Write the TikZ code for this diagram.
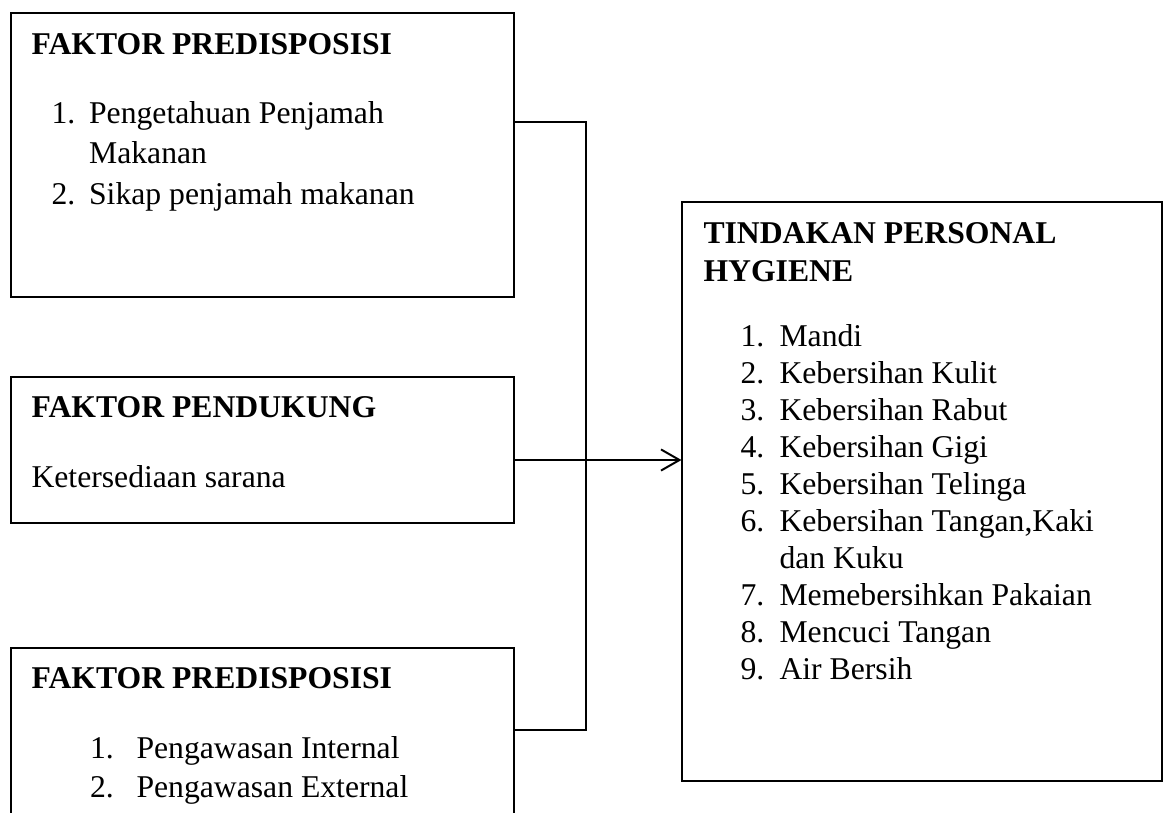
\documentclass[tikz,border=0pt]{standalone}
\usepackage{fontspec}
\setmainfont{Liberation Serif}
\usetikzlibrary{fit,arrows.meta}

\begin{document}
\begin{tikzpicture}[x=0.3788pt, y=-0.3788pt, >={Straight Barb[length=7pt,width=8pt]},
  boite/.style={draw, thin, inner sep=0pt},
  liaison/.style={line width=0.75pt},
  titre/.style={anchor=base west, inner sep=0pt, font=\fontsize{12}{14}\selectfont\bfseries},
  texte/.style={anchor=base west, inner sep=0pt, font=\fontsize{12}{14}\selectfont}]

\useasboundingbox (0,0) rectangle (1165,812);

%% Les quatre cadres.

\node[boite, fit={(11,13) (514,297)}]   (predisA)   {};
\node[boite, fit={(11,377) (514,523)}]  (pendukung) {};
\node[boite, fit={(11,648) (514,840)}]  (predisB)   {};
\node[boite, fit={(682,202) (1162,781)}] (tindakan) {};

%% Premier cadre.

\node[titre] (titreA) at (31,54) {FAKTOR PREDISPOSISI};
\node[texte] (numA1) at (51,123)   {1.};
\node[texte] (itemA1) at (88.6,123) {Pengetahuan Penjamah};
\node[texte] (suiteA1) at (88.6,163) {Makanan};
\node[texte] (numA2) at (51,204)   {2.};
\node[texte] (itemA2) at (88.6,204) {Sikap penjamah makanan};

%% Cadre du milieu.

\node[titre] (titreP) at (31,417) {FAKTOR PENDUKUNG};
\node[texte] (itemP) at (31,487)  {Ketersediaan sarana};

%% Dernier cadre a gauche.

\node[titre] (titreB) at (31,688) {FAKTOR PREDISPOSISI};
\foreach \i/\t/\y in {1/Pengawasan Internal/758, 2/Pengawasan External/797}
  {
  \node[texte] (numB\i) at (89.6,\y) {\i.};
  \node[texte] (itemB\i) at (136,\y) {\t};
  }

%% Cadre de droite.

\node[titre] (titreT1) at (703,243) {TINDAKAN PERSONAL};
\node[titre] (titreT2) at (703,281) {HYGIENE};
\foreach \i/\t/\y in {1/Mandi/346, 2/Kebersihan Kulit/383, 3/Kebersihan Rabut/420,
    4/Kebersihan Gigi/457, 5/Kebersihan Telinga/494, 6/{Kebersihan Tangan,Kaki}/531,
    7/Memebersihkan Pakaian/605, 8/Mencuci Tangan/642, 9/Air Bersih/679}
  {
  \node[texte] (numT\i) at (740,\y) {\i.};
  \node[texte] (itemT\i) at (779,\y) {\t};
  }
\node[texte] (suiteT6) at (779,568) {dan Kuku};

%% Les liaisons.

\coordinate (coudeA) at (586,122);
\coordinate (coudeB) at (586,730);
\coordinate (fleche) at (0,460);
\draw[liaison] (predisA.east |- coudeA) -- (coudeA) -- (coudeB) -- (predisB.east |- coudeB);
\draw[liaison,->] (pendukung.east |- fleche) -- (tindakan.west |- fleche);

\end{tikzpicture}
\end{document}
